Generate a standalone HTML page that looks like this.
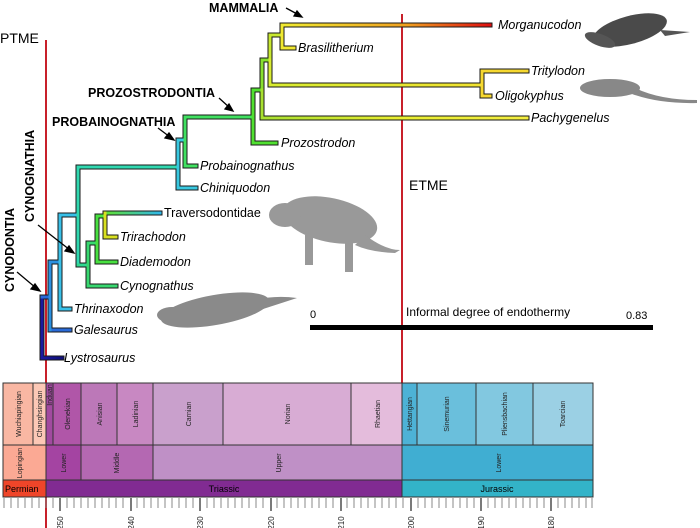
<!DOCTYPE html>
<html><head><meta charset="utf-8"><style>
html,body{margin:0;padding:0;background:#fff;}
svg{display:block;font-family:"Liberation Sans",Arial,sans-serif;}
.b{fill:none;stroke:#1a1a1a;stroke-width:5;stroke-linejoin:miter;stroke-linecap:square}
.i{font-style:italic;font-size:12.5px;fill:#000}
.t{font-size:7px;fill:#222}
.h{font-weight:bold;font-size:12.5px;fill:#000}
</style></head><body>
<svg width="700" height="528" viewBox="0 0 700 528" xmlns="http://www.w3.org/2000/svg">
<defs>
<linearGradient id="gm" x1="282" x2="490" gradientUnits="userSpaceOnUse"><stop offset="0" stop-color="#f0ea30"/><stop offset="0.6" stop-color="#f0a020"/><stop offset="1" stop-color="#e01010"/></linearGradient>
<linearGradient id="gp" x1="262" x2="527" gradientUnits="userSpaceOnUse"><stop offset="0" stop-color="#a8e030"/><stop offset="0.5" stop-color="#e8ee30"/><stop offset="1" stop-color="#f4ee40"/></linearGradient>
<linearGradient id="gt" x1="270" x2="527" gradientUnits="userSpaceOnUse"><stop offset="0" stop-color="#d8ec30"/><stop offset="1" stop-color="#f6e030"/></linearGradient>
<linearGradient id="gx" x1="105" x2="160" gradientUnits="userSpaceOnUse"><stop offset="0" stop-color="#60e030"/><stop offset="1" stop-color="#30b8e8"/></linearGradient>
<linearGradient id="gl" x1="42" x2="62" gradientUnits="userSpaceOnUse"><stop offset="0" stop-color="#1a1aa0"/><stop offset="1" stop-color="#10107a"/></linearGradient>
</defs>

<line x1="46" y1="40" x2="46" y2="528" stroke="#c8202a" stroke-width="2"/>
<line x1="402" y1="14" x2="402" y2="383" stroke="#c8202a" stroke-width="2"/>

<g fill="#777">
<ellipse cx="630" cy="30" rx="38" ry="14" fill="#4a4a4a" transform="rotate(-15 630 30)"/>
<ellipse cx="600" cy="40" rx="16" ry="6" fill="#555" transform="rotate(20 600 40)"/>
<path d="M660 30 L690 32 L665 36Z" fill="#555"/>
<ellipse cx="610" cy="88" rx="30" ry="9" fill="#888"/>
<path d="M635 88 Q660 100 697 100 L697 103 Q660 104 632 94Z" fill="#888"/>
<ellipse cx="330" cy="220" rx="48" ry="22" fill="#999" transform="rotate(12 330 220)"/>
<ellipse cx="285" cy="215" rx="16" ry="12" fill="#999"/>
<path d="M365 235 Q385 250 400 250 L395 253 Q370 252 355 245Z" fill="#999"/>
<rect x="305" y="235" width="8" height="30" fill="#999"/>
<rect x="345" y="240" width="8" height="32" fill="#999"/>
<ellipse cx="215" cy="310" rx="55" ry="15" fill="#8a8a8a" transform="rotate(-10 215 310)"/>
<path d="M255 300 Q275 295 297 298 L260 310Z" fill="#8a8a8a"/>
<ellipse cx="172" cy="315" rx="15" ry="8" fill="#8a8a8a"/>
</g>

<g class="b">
<path d="M62 358 H42 V297 H50"/>
<path d="M70 330 H50 V262 H60"/>
<path d="M70 309 H60 V215 H78"/>
<path d="M88 265 H78 V167 H178"/>
<path d="M196 188 H178 V140 H185"/>
<path d="M196 166 H185 V117 H253"/>
<path d="M276 143 H253 V90 H262"/>
<path d="M527 118 H262 V60 H270"/>
<path d="M482 85 H270 V35 H282"/>
<path d="M527 71 H482 V96 H490"/>
<path d="M490 25 H282 V48 H294"/>
<path d="M116 286 H88 V243 H97"/>
<path d="M116 262 H97 V216 H105"/>
<path d="M160 213 H105 V237 H116"/>
</g>
<g fill="none" stroke-width="3" stroke-linecap="square">
<path d="M62 358 H42 V297" stroke="url(#gl)"/>
<path d="M42 297 H50 V330 H70" stroke="#2a6ad8"/>
<path d="M50 330 V262 H60" stroke="#2a90e0"/>
<path d="M70 309 H60 V215 H78" stroke="#38c0e8"/>
<path d="M78 265 V167 H178" stroke="#30d8b0"/>
<path d="M88 265 H78" stroke="#30d890"/>
<path d="M196 188 H178 V140 H185" stroke="#38c8e0"/>
<path d="M185 140 V117 H253 M196 166 H185 V140" stroke="#40e060"/>
<path d="M276 143 H253 V90 H262" stroke="#50e030"/>
<path d="M262 90 V60 H270" stroke="#88e030"/>
<path d="M527 118 H262 V90" stroke="url(#gp)"/>
<path d="M270 60 V35 H282" stroke="#c8e830"/>
<path d="M482 85 H270 V60" stroke="url(#gt)"/>
<path d="M527 71 H482 V96 H490" stroke="#f6d830"/>
<path d="M490 25 H282" stroke="url(#gm)"/>
<path d="M282 25 V48 H294" stroke="#f0e830"/>
<path d="M116 286 H88 V243 H97" stroke="#38d870"/>
<path d="M116 262 H97 V216 H105" stroke="#48e040"/>
<path d="M160 213 H105" stroke="url(#gx)"/>
<path d="M105 213 V237 H116" stroke="#d8e020"/>
</g>

<text x="498" y="29" class="i">Morganucodon</text>
<text x="298" y="52" class="i">Brasilitherium</text>
<text x="531" y="75" class="i">Tritylodon</text>
<text x="495" y="100" class="i">Oligokyphus</text>
<text x="531" y="122" class="i">Pachygenelus</text>
<text x="281" y="147" class="i">Prozostrodon</text>
<text x="200" y="170" class="i">Probainognathus</text>
<text x="200" y="192" class="i">Chiniquodon</text>
<text x="164" y="217" style="font-size:12.5px">Traversodontidae</text>
<text x="120" y="241" class="i">Trirachodon</text>
<text x="120" y="266" class="i">Diademodon</text>
<text x="120" y="290" class="i">Cynognathus</text>
<text x="74" y="313" class="i">Thrinaxodon</text>
<text x="74" y="334" class="i">Galesaurus</text>
<text x="64" y="362" class="i">Lystrosaurus</text>

<text x="209" y="12" class="h">MAMMALIA</text>
<text x="88" y="97" class="h">PROZOSTRODONTIA</text>
<text x="52" y="126" class="h">PROBAINOGNATHIA</text>
<text transform="translate(34 222) rotate(-90)" class="h">CYNOGNATHIA</text>
<text transform="translate(14 292) rotate(-90)" class="h">CYNODONTIA</text>
<g stroke="#000" stroke-width="1.3" fill="#000">
<line x1="286" y1="8" x2="299" y2="15"/><path d="M302 17 L294 16 L297 11Z"/>
<line x1="219" y1="98" x2="230" y2="108"/><path d="M233 111 L225 109 L229 104Z"/>
<line x1="158" y1="128" x2="170" y2="137"/><path d="M174 140 L165 138 L169 133Z"/>
<line x1="38" y1="225" x2="70" y2="250"/><path d="M74 253 L65 251 L69 246Z"/>
<line x1="17" y1="272" x2="36" y2="288"/><path d="M40 291 L31 289 L35 284Z"/>
</g>

<text x="0" y="43" style="font-size:14px">PTME</text>
<text x="409" y="190" style="font-size:14px">ETME</text>
<rect x="310" y="325" width="343" height="5" fill="#000"/>
<text x="310" y="318" style="font-size:11px">0</text>
<text x="406" y="316" style="font-size:12px">Informal degree of endothermy</text>
<text x="626" y="319" style="font-size:11px">0.83</text>

<g stroke="#333" stroke-width="1">
<rect x="3" y="383" width="30" height="62" fill="#f9b7a3"/>
<rect x="33" y="383" width="13" height="62" fill="#fcc8b6"/>
<rect x="46" y="383" width="7" height="62" fill="#a24aa0"/>
<rect x="53" y="383" width="28" height="62" fill="#b056a8"/>
<rect x="81" y="383" width="36" height="62" fill="#bc78b8"/>
<rect x="117" y="383" width="36" height="62" fill="#c888c2"/>
<rect x="153" y="383" width="70" height="62" fill="#c9a0cc"/>
<rect x="223" y="383" width="128" height="62" fill="#d8acd4"/>
<rect x="351" y="383" width="51" height="62" fill="#e4bcdc"/>
<rect x="402" y="383" width="15" height="62" fill="#4db2d6"/>
<rect x="417" y="383" width="59" height="62" fill="#6abfdc"/>
<rect x="476" y="383" width="57" height="62" fill="#82c8e0"/>
<rect x="533" y="383" width="60" height="62" fill="#9bd0e4"/>
<rect x="3" y="445" width="43" height="35" fill="#fba994"/>
<rect x="46" y="445" width="35" height="35" fill="#a444a2"/>
<rect x="81" y="445" width="72" height="35" fill="#b468b2"/>
<rect x="153" y="445" width="249" height="35" fill="#bf90c6"/>
<rect x="402" y="445" width="191" height="35" fill="#40aed2"/>
<rect x="3" y="480" width="43" height="17" fill="#ef4529"/>
<rect x="46" y="480" width="356" height="17" fill="#812b92"/>
<rect x="402" y="480" width="191" height="17" fill="#33b3c8"/>
</g>
<g class="t" text-anchor="middle">
<text transform="translate(21 414) rotate(-90)">Wuchiapingian</text>
<text transform="translate(42 414) rotate(-90)">Changhsingian</text>
<text transform="translate(52 395) rotate(-90)">Induan</text>
<text transform="translate(70 414) rotate(-90)">Olenekian</text>
<text transform="translate(102 414) rotate(-90)">Anisian</text>
<text transform="translate(138 414) rotate(-90)">Ladinian</text>
<text transform="translate(191 414) rotate(-90)">Carnian</text>
<text transform="translate(290 414) rotate(-90)">Norian</text>
<text transform="translate(380 414) rotate(-90)">Rhaetian</text>
<text transform="translate(412 414) rotate(-90)">Hettangian</text>
<text transform="translate(449 414) rotate(-90)">Sinemurian</text>
<text transform="translate(507 414) rotate(-90)">Pliensbachian</text>
<text transform="translate(565 414) rotate(-90)">Toarcian</text>
<text transform="translate(22 463) rotate(-90)">Lopingian</text>
<text transform="translate(66 463) rotate(-90)">Lower</text>
<text transform="translate(119 463) rotate(-90)">Middle</text>
<text transform="translate(281 463) rotate(-90)">Upper</text>
<text transform="translate(501 463) rotate(-90)">Lower</text>
</g>
<text x="5" y="492" style="font-size:9px">Permian</text>
<text x="224" y="492" text-anchor="middle" style="font-size:9px">Triassic</text>
<text x="497" y="492" text-anchor="middle" style="font-size:9px">Jurassic</text>
<g stroke="#888" stroke-width="1">
<path d="M4 498V508M11 498V508M18 498V508M25 498V508M32 498V508M39 498V508M46 498V508M53 498V508M67 498V508M74 498V508M81 498V508M88 498V508M95 498V508M102 498V508M109 498V508M116 498V508M123 498V508M137 498V508M144 498V508M151 498V508M158 498V508M165 498V508M172 498V508M179 498V508M186 498V508M193 498V508M207 498V508M214 498V508M221 498V508M228 498V508M235 498V508M242 498V508M249 498V508M256 498V508M263 498V508M277 498V508M284 498V508M291 498V508M298 498V508M305 498V508M312 498V508M319 498V508M326 498V508M333 498V508M347 498V508M354 498V508M361 498V508M368 498V508M375 498V508M382 498V508M389 498V508M396 498V508M403 498V508M418 498V508M425 498V508M432 498V508M439 498V508M446 498V508M453 498V508M460 498V508M467 498V508M474 498V508M488 498V508M495 498V508M502 498V508M509 498V508M516 498V508M523 498V508M530 498V508M537 498V508M544 498V508M558 498V508M565 498V508M572 498V508M579 498V508M586 498V508M592 498V508"/>
</g>
<g stroke="#222" stroke-width="1.2">
<path d="M60 498V511M131 498V511M200 498V511M271 498V511M341 498V511M411 498V511M481 498V511M551 498V511"/>
</g>
<g class="t" style="font-size:8px" text-anchor="middle">
<text transform="translate(63 523) rotate(-90)">250</text>
<text transform="translate(134 523) rotate(-90)">240</text>
<text transform="translate(203 523) rotate(-90)">230</text>
<text transform="translate(274 523) rotate(-90)">220</text>
<text transform="translate(344 523) rotate(-90)">210</text>
<text transform="translate(414 523) rotate(-90)">200</text>
<text transform="translate(484 523) rotate(-90)">190</text>
<text transform="translate(554 523) rotate(-90)">180</text>
</g>
</svg>
</body></html>
